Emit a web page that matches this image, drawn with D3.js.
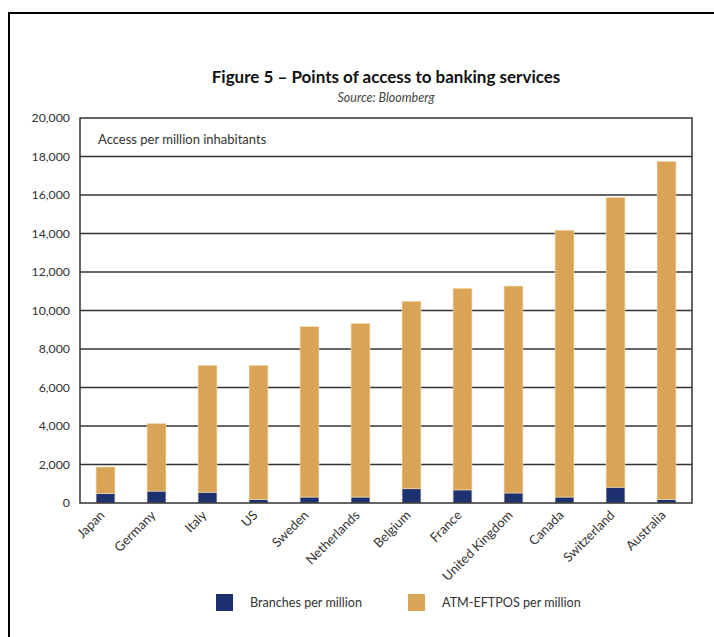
<!DOCTYPE html>
<html>
<head>
<meta charset="utf-8">
<script src="https://cdn.jsdelivr.net/npm/d3@7"></script>
<style>
  body { margin: 0; background: #fff; }
  svg { display: block; font-family: Lato, "Open Sans", sans-serif; }
</style>
</head>
<body>
<svg id="chart" width="714" height="637"></svg>
<script>
const countries = ["Japan", "Germany", "Italy", "US", "Sweden", "Netherlands", "Belgium", "France", "United Kingdom", "Canada", "Switzerland", "Australia"];
const branches = [500, 620, 560, 190, 310, 310, 740, 680, 520, 310, 820, 190];
const atm = [1370, 3510, 6590, 6960, 8850, 9020, 9740, 10470, 10750, 13860, 15050, 17560];
const yTicks = [0, 2000, 4000, 6000, 8000, 10000, 12000, 14000, 16000, 18000, 20000];
const seriesNames = ["Branches per million", "ATM-EFTPOS per million"];

const navy = "#1d3170";
const gold = "#d9a456";

const svg = d3.select("#chart");
const plotL = 80, plotR = 692, plotT = 118, plotB = 503;

// frame round the figure
svg.append("path")
    .attr("d", "M9,637 V13 H714")
    .attr("fill", "none")
    .attr("stroke", "#000")
    .attr("stroke-width", 2);

svg.append("text")
    .attr("x", (plotL + plotR) / 2)
    .attr("y", 83)
    .attr("text-anchor", "middle")
    .style("font-size", "17px")
    .style("font-weight", "bold")
    .style("fill", "#111")
    .text("Figure 5 – Points of access to banking services");

svg.append("text")
    .attr("x", (plotL + plotR) / 2)
    .attr("y", 102)
    .attr("text-anchor", "middle")
    .style("font-size", "12.5px")
    .style("font-style", "italic")
    .style("fill", "#444")
    .text("Source: Bloomberg");

const x = d3.scaleBand()
    .domain(countries)
    .range([plotL, plotR])
    .paddingInner(0.63)
    .paddingOuter(0.315);

const y = d3.scaleLinear()
    .domain([0, 20000])
    .range([plotB, plotT]);

// grid lines
svg.append("g")
    .selectAll("line")
    .data(yTicks.slice(1, -1))
    .enter().append("line")
    .attr("x1", plotL).attr("x2", plotR)
    .attr("y1", d => y(d)).attr("y2", d => y(d))
    .attr("stroke", "#333")
    .attr("stroke-width", 1.4);

const data = countries.map((c, i) => ({ country: c, branches: branches[i], atm: atm[i] }));
const stack = d3.stack().keys(["branches", "atm"])(data);
const colors = [navy, gold];

svg.append("g")
    .selectAll("g")
    .data(stack)
    .enter().append("g")
    .attr("fill", (d, i) => colors[i])
    .selectAll("rect")
    .data(d => d)
    .enter().append("rect")
    .attr("x", d => x(d.data.country))
    .attr("width", x.bandwidth())
    .attr("y", d => y(d[1]))
    .attr("height", d => y(d[0]) - y(d[1]))
    .attr("stroke", "#f3dcb4")
    .attr("stroke-width", 0.6);

// plot border
svg.append("rect")
    .attr("x", plotL).attr("y", plotT)
    .attr("width", plotR - plotL).attr("height", plotB - plotT)
    .attr("fill", "none")
    .attr("stroke", "#333")
    .attr("stroke-width", 1.5);

svg.append("text")
    .attr("x", 98)
    .attr("y", 144)
    .style("font-size", "13px")
    .style("fill", "#333")
    .text("Access per million inhabitants");

// y axis labels
const yAxis = d3.axisLeft(y)
    .tickValues(yTicks)
    .tickSize(0)
    .tickPadding(10)
    .tickFormat(d3.format(","));

svg.append("g")
    .attr("transform", `translate(${plotL},0)`)
    .call(yAxis)
    .call(g => g.select(".domain").remove())
    .selectAll("text")
    .style("font-family", "Lato, 'Open Sans', sans-serif")
    .style("font-size", "12.3px")
    .style("fill", "#333");

// x axis labels
const xAxis = d3.axisBottom(x).tickSize(0).tickPadding(0);
svg.append("g")
    .attr("transform", `translate(0,${plotB})`)
    .call(xAxis)
    .call(g => g.select(".domain").remove())
    .selectAll("text")
    .style("font-family", "Lato, 'Open Sans', sans-serif")
    .style("font-size", "13px")
    .style("fill", "#333")
    .attr("text-anchor", "end")
    .attr("dy", "0")
    .attr("transform", "translate(0,13) rotate(-45)");

// legend
const legendX = [216, 408];
const legend = svg.append("g")
    .selectAll("g")
    .data(seriesNames)
    .enter().append("g")
    .attr("transform", (d, i) => `translate(${legendX[i]},594)`);

legend.append("rect")
    .attr("width", 17).attr("height", 17)
    .attr("fill", (d, i) => colors[i]);

legend.append("text")
    .attr("x", 34)
    .attr("y", 13)
    .style("font-size", "12.6px")
    .style("fill", "#333")
    .text(d => d);
</script>
</body>
</html>
